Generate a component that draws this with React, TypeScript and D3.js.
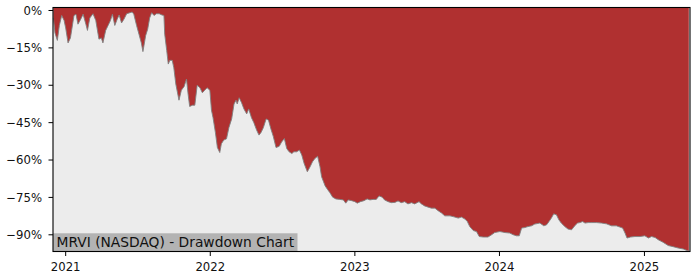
import React from "react";
import * as d3 from "d3";

const dates: string[] = [
  "2020-12-01","2020-12-05","2020-12-11","2020-12-16","2020-12-22","2020-12-28","2021-01-01","2021-01-07","2021-01-13","2021-01-22",
  "2021-01-27","2021-02-01","2021-02-08","2021-02-14","2021-02-21","2021-02-25","2021-03-03","2021-03-11","2021-03-18","2021-03-26",
  "2021-04-01","2021-04-05","2021-04-12","2021-04-18","2021-04-24","2021-04-29","2021-05-05","2021-05-11","2021-05-16","2021-05-22",
  "2021-05-28","2021-06-04","2021-06-12","2021-06-18","2021-06-22","2021-06-29","2021-07-05","2021-07-11","2021-07-15","2021-07-22",
  "2021-07-27","2021-08-01","2021-08-06","2021-08-12","2021-08-18","2021-08-25","2021-09-01","2021-09-06","2021-09-08","2021-09-13",
  "2021-09-17","2021-09-21","2021-09-27","2021-10-01","2021-10-06","2021-10-14","2021-10-20","2021-10-27","2021-11-02","2021-11-06",
  "2021-11-10","2021-11-17","2021-11-23","2021-11-29","2021-12-06","2021-12-12","2021-12-18","2021-12-24","2021-12-31","2022-01-04",
  "2022-01-08","2022-01-14","2022-01-19","2022-01-25","2022-01-29","2022-02-04","2022-02-11","2022-02-17","2022-02-24","2022-03-02",
  "2022-03-07","2022-03-10","2022-03-15","2022-03-21","2022-03-27","2022-04-03","2022-04-08","2022-04-15","2022-04-21","2022-04-28",
  "2022-05-04","2022-05-09","2022-05-15","2022-05-22","2022-05-28","2022-06-03","2022-06-09","2022-06-16","2022-06-24","2022-06-30",
  "2022-07-07","2022-07-13","2022-07-19","2022-07-26","2022-07-31","2022-08-07","2022-08-14","2022-08-20","2022-08-26","2022-09-03",
  "2022-09-10","2022-09-16","2022-09-22","2022-09-29","2022-10-05","2022-10-09","2022-10-18","2022-10-24","2022-10-30","2022-11-06",
  "2022-11-14","2022-11-24","2022-12-03","2022-12-09","2022-12-15","2022-12-24","2023-01-01","2023-01-07","2023-01-15","2023-01-24",
  "2023-02-01","2023-02-08","2023-02-16","2023-02-24","2023-03-03","2023-03-11","2023-03-17","2023-03-26","2023-04-03","2023-04-12",
  "2023-04-20","2023-04-28","2023-05-07","2023-05-15","2023-05-24","2023-06-01","2023-06-12","2023-06-18","2023-06-26","2023-07-05",
  "2023-07-13","2023-07-22","2023-07-30","2023-08-08","2023-08-16","2023-08-29","2023-09-06","2023-09-19","2023-09-27","2023-10-06",
  "2023-10-12","2023-10-18","2023-10-27","2023-11-04","2023-11-11","2023-11-21","2023-12-03","2023-12-12","2023-12-20","2024-01-02",
  "2024-01-15","2024-01-27","2024-02-05","2024-02-13","2024-02-20","2024-02-26","2024-03-05","2024-03-13","2024-03-22","2024-03-30",
  "2024-04-12","2024-04-22","2024-04-29","2024-05-05","2024-05-11","2024-05-17","2024-05-24","2024-05-30","2024-06-05","2024-06-14",
  "2024-06-22","2024-07-01","2024-07-09","2024-07-16","2024-07-22","2024-07-29","2024-08-04","2024-08-12","2024-08-21","2024-09-02",
  "2024-09-15","2024-09-27","2024-10-10","2024-10-22","2024-10-31","2024-11-07","2024-11-13","2024-11-18","2024-11-27","2024-12-08",
  "2024-12-21","2025-01-02","2025-01-11","2025-01-19","2025-01-28","2025-02-05","2025-02-17","2025-03-02","2025-03-15","2025-03-27",
  "2025-04-09","2025-04-18","2025-04-23"
];

const drawdown: number[] = [
  -3,-9,-12,-6,-2,-4,-7,-13,-11,-2,
  -1.5,-5.5,-3.5,-1.5,-5.5,-8,-3,-1.3,-4,-11.5,
  -11,-13,-8,-6,-4,-1.5,-6,-3.5,-1.8,-5,
  -3.5,-1.3,-0.9,-0.6,-1.5,-6,-9.5,-13,-16.5,-10,
  -7.5,-3,-0.9,-2,-1.3,-1.3,-1.8,-2,-9.5,-16,
  -21.5,-20,-20,-23,-29.5,-36,-32,-30.5,-27.5,-33.5,
  -38.5,-38,-38,-30,-31,-33,-32,-31,-32,-40,
  -43,-49,-55,-57,-53.5,-52,-51.5,-47,-43.5,-37.5,
  -36,-37.5,-35,-37,-39.5,-41.5,-39.5,-43,-45,-48,
  -50,-49,-47,-43.5,-44,-47.5,-50.5,-55,-54.5,-52.8,
  -51.4,-55.4,-56.7,-57.4,-56.7,-56.7,-56,-58,-61.4,-64.7,
  -62.7,-60.7,-59.4,-58.5,-62.7,-66.7,-70.4,-71.8,-73.1,-74.9,
  -75.6,-75.8,-76,-77.3,-76,-76.3,-76.7,-77.3,-76.7,-76.3,
  -75.6,-76,-75.8,-75.8,-74.4,-74.9,-76,-76.7,-77.1,-77,
  -76.4,-77.1,-76.7,-77.6,-77.1,-77.6,-76.7,-77.6,-78.4,-78.9,
  -79.3,-79.3,-80.3,-81.3,-82.4,-82.4,-82.7,-83.3,-82.9,-83.7,
  -84.7,-86.7,-88.3,-88.7,-90.7,-90.9,-90.9,-90,-89.1,-88.7,
  -89.1,-89.3,-90,-90.4,-90.4,-87.3,-87.1,-86.7,-86.4,-85.7,
  -85.3,-86.4,-86,-84.7,-83.3,-81.6,-82,-84,-85.3,-86.7,
  -87.7,-88,-86.4,-85.3,-85.1,-84.7,-85.3,-85.1,-85.1,-85.1,
  -85.3,-85.6,-86.4,-86.4,-86.9,-87.3,-89.3,-91.3,-90.9,-90.7,
  -90.7,-90.4,-91.3,-90.7,-91.1,-92,-93,-94.3,-94.8,-95.3,
  -95.7,-96.3,-96.5
];

const yTicks: number[] = [0, -15, -30, -45, -60, -75, -90];
const xTickYears: string[] = ["2021-01-01", "2022-01-01", "2023-01-01", "2024-01-01", "2025-01-01"];
const xDomain: string[] = ["2020-11-30", "2025-04-26"];
const yDomain: number[] = [-96.7, 1.2];
const title = "MRVI (NASDAQ) - Drawdown Chart";

export default function App() {
  const W = 700, H = 280;
  const left = 53, right = 690, top = 7.5, bottom = 251.5;
  const parse = d3.utcParse("%Y-%m-%d");
  const x = d3.scaleUtc().domain(xDomain.map((s) => parse(s) as Date)).range([left, right]);
  const y = d3.scaleLinear().domain(yDomain).range([bottom, top]);
  const pts = dates.map((s, i) => ({ d: parse(s) as Date, v: drawdown[i] }));

  const area = d3
    .area<{ d: Date; v: number }>()
    .x((p) => x(p.d))
    .y0(top)
    .y1((p) => y(p.v));
  const line = d3
    .line<{ d: Date; v: number }>()
    .x((p) => x(p.d))
    .y((p) => y(p.v));

  const font = "'DejaVu Sans', sans-serif";
  return (
    <svg
      width={W}
      height={H}
      style={{ position: "absolute", left: 0, top: 0, display: "block", background: "#fff" }}
    >
      <rect x={left} y={top} width={right - left} height={bottom - top} fill="#ececec" />
      <path d={area(pts) || ""} fill="#b03030" />
      <path d={line(pts) || ""} fill="none" stroke="#808080" strokeWidth={0.9} />
      <rect x={left} y={233.3} width={244.5} height={bottom - 233.3} fill="#b3b3b3" />
      <text x={56.5} y={247} fontFamily={font} fontSize={13.8} fill="#111">
        {title}
      </text>
      <rect x={left} y={top} width={right - left} height={bottom - top} fill="none" stroke="#000" strokeWidth={1.1} />
      {yTicks.map((t) => (
        <g key={t}>
          <line x1={left - 4.5} x2={left} y1={y(t)} y2={y(t)} stroke="#000" strokeWidth={1} />
          <text
            x={left - 11}
            y={y(t)}
            dy="0.36em"
            textAnchor="end"
            fontFamily={font}
            fontSize={11.7}
            fill="#111"
          >
            {t === 0 ? "0%" : "\u2212" + Math.abs(t) + "%"}
          </text>
        </g>
      ))}
      {xTickYears.map((s) => {
        const xv = x(parse(s) as Date);
        return (
          <g key={s}>
            <line x1={xv} x2={xv} y1={bottom} y2={bottom + 4.5} stroke="#000" strokeWidth={1} />
            <text x={xv} y={271} textAnchor="middle" fontFamily={font} fontSize={11.7} fill="#111">
              {s.slice(0, 4)}
            </text>
          </g>
        );
      })}
    </svg>
  );
}
